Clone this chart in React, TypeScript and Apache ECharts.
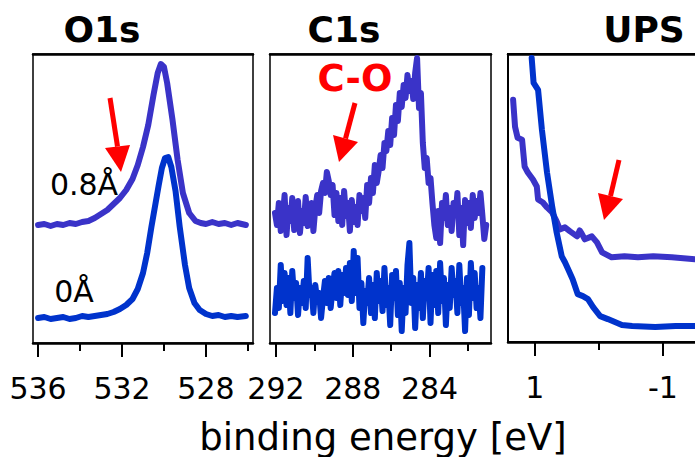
import React, { useEffect, useRef } from "react";
import * as echarts from "echarts";

// ---------- data (binding energy [eV], intensity [a.u.]) ----------
const o1sLabels = [536, 532, 528];
const o1sMinor = [534, 530, 526];
const c1sLabels = [292, 288, 284];
const c1sMinor = [290, 286, 282];
const upsLabels = [1, -1];
const upsMinor = [0];

const o1s08: [number, number][] = [
  [536.0, 118], [535.7, 119], [535.4, 117], [535.1, 119], [534.8, 118], [534.5, 120], [534.2, 119],
  [533.9, 121], [533.6, 122], [533.3, 125], [533.0, 129], [532.7, 133], [532.4, 139], [532.1, 145],
  [531.8, 153], [531.5, 164], [531.25, 178], [531.0, 196], [530.75, 218], [530.5, 248], [530.3, 270],
  [530.15, 279], [530.0, 276], [529.85, 260], [529.6, 224], [529.35, 183], [529.1, 150], [528.8, 130],
  [528.5, 122], [528.25, 120], [528.0, 119], [527.7, 121], [527.4, 119], [527.1, 120], [526.8, 118],
  [526.5, 120], [526.1, 118],
];
const o1s0: [number, number][] = [
  [536.0, 25], [535.7, 26], [535.4, 24], [535.1, 25], [534.8, 26], [534.5, 24], [534.2, 25],
  [533.9, 27], [533.6, 26], [533.3, 27], [533.0, 28], [532.7, 29], [532.4, 31], [532.1, 34],
  [531.8, 38], [531.5, 44], [531.25, 54], [531.0, 70], [530.8, 90], [530.6, 116], [530.4, 140],
  [530.25, 158], [530.1, 175], [529.95, 185], [529.8, 186], [529.65, 176], [529.45, 152], [529.25, 116],
  [529.0, 78], [528.8, 55], [528.55, 40], [528.3, 33], [528.0, 29], [527.7, 27], [527.4, 28],
  [527.1, 26], [526.8, 27], [526.5, 26], [526.1, 27],
];

const c1s08: [number, number][] = [
  [292.05, 130], [291.95, 118], [291.85, 140], [291.75, 112], [291.65, 125], [291.55, 148], [291.45, 108],
  [291.35, 135], [291.25, 122], [291.15, 145], [291.05, 113], [290.95, 128], [290.85, 142], [290.75, 110],
  [290.65, 132], [290.55, 120], [290.45, 146], [290.35, 117], [290.25, 126], [290.15, 140], [290.05, 112],
  [289.95, 135], [289.85, 148], [289.75, 130], [289.65, 152], [289.55, 160], [289.45, 150], [289.35, 171],
  [289.25, 162], [289.15, 148], [289.05, 158], [288.95, 128], [288.85, 150], [288.75, 122], [288.65, 145],
  [288.55, 118], [288.45, 152], [288.35, 127], [288.25, 140], [288.15, 112], [288.05, 143], [287.95, 121],
  [287.85, 136], [287.75, 118], [287.65, 148], [287.55, 132], [287.45, 145], [287.35, 125], [287.25, 158],
  [287.15, 140], [287.05, 165], [286.95, 150], [286.85, 178], [286.75, 160], [286.65, 172], [286.55, 188],
  [286.45, 175], [286.35, 200], [286.25, 192], [286.15, 212], [286.05, 198], [285.95, 225], [285.85, 208],
  [285.75, 238], [285.65, 222], [285.55, 250], [285.45, 236], [285.35, 258], [285.25, 245], [285.15, 268],
  [285.05, 252], [284.95, 262], [284.85, 244], [284.75, 270], [284.65, 285], [284.55, 235], [284.45, 250],
  [284.35, 200], [284.25, 175], [284.15, 185], [284.05, 160], [283.95, 165], [283.85, 140], [283.75, 118],
  [283.65, 105], [283.55, 132], [283.45, 100], [283.35, 140], [283.25, 125], [283.15, 148], [283.05, 118],
  [282.95, 135], [282.85, 112], [282.75, 140], [282.65, 128], [282.55, 150], [282.45, 108], [282.35, 135],
  [282.25, 98], [282.15, 143], [282.05, 120], [281.95, 140], [281.85, 115], [281.75, 148], [281.65, 125],
  [281.55, 142], [281.45, 130], [281.35, 150], [281.25, 128], [281.15, 104], [281.05, 118],
];
const c1s0: [number, number][] = [
  [292.05, 30], [291.95, 55], [291.85, 35], [291.75, 78], [291.65, 42], [291.55, 70], [291.45, 38],
  [291.35, 65], [291.25, 30], [291.15, 72], [291.05, 45], [290.95, 60], [290.85, 28], [290.75, 55],
  [290.65, 40], [290.55, 62], [290.45, 35], [290.35, 85], [290.25, 48], [290.15, 55], [290.05, 30],
  [289.95, 58], [289.85, 42], [289.75, 50], [289.65, 25], [289.55, 45], [289.45, 62], [289.35, 40],
  [289.25, 65], [289.15, 35], [289.05, 55], [288.95, 70], [288.85, 45], [288.75, 72], [288.65, 38],
  [288.55, 68], [288.45, 50], [288.35, 75], [288.25, 48], [288.15, 80], [288.05, 42], [287.95, 92],
  [287.85, 50], [287.75, 85], [287.65, 35], [287.55, 60], [287.45, 20], [287.35, 52], [287.25, 40],
  [287.15, 65], [287.05, 30], [286.95, 58], [286.85, 25], [286.75, 70], [286.65, 42], [286.55, 62],
  [286.45, 32], [286.35, 75], [286.25, 38], [286.15, 55], [286.05, 18], [285.95, 68], [285.85, 45],
  [285.75, 72], [285.65, 28], [285.55, 60], [285.45, 12], [285.35, 55], [285.25, 30], [285.15, 78],
  [285.05, 100], [284.95, 40], [284.85, 65], [284.75, 15], [284.65, 58], [284.55, 35], [284.45, 70],
  [284.35, 25], [284.25, 62], [284.15, 45], [284.05, 75], [283.95, 20], [283.85, 68], [283.75, 38],
  [283.65, 72], [283.55, 30], [283.45, 80], [283.35, 42], [283.25, 65], [283.15, 18], [283.05, 58],
  [282.95, 35], [282.85, 75], [282.75, 48], [282.65, 62], [282.55, 30], [282.45, 78], [282.35, 40],
  [282.25, 55], [282.15, 12], [282.05, 65], [281.95, 28], [281.85, 80], [281.75, 45], [281.65, 70],
  [281.55, 35], [281.45, 55], [281.35, 25], [281.25, 75],
];

const ups08: [number, number][] = [
  [1.34, 243], [1.31, 216], [1.27, 205], [1.2, 203], [1.16, 176], [1.11, 170], [1.03, 163],
  [0.97, 156], [0.95, 143], [0.875, 140], [0.81, 135], [0.73, 130], [0.66, 121], [0.61, 113],
  [0.53, 115], [0.45, 111], [0.34, 106], [0.3, 112], [0.27, 109], [0.22, 103], [0.11, 106],
  [0.03, 100], [-0.05, 90], [-0.2, 85], [-0.4, 86], [-0.61, 85], [-0.85, 86], [-1.14, 85],
  [-1.5, 83], [-1.8, 84],
];
const ups0: [number, number][] = [
  [1.05, 285], [1.02, 260], [0.95, 253], [0.89, 213], [0.81, 170], [0.73, 136], [0.66, 110],
  [0.58, 86], [0.53, 80], [0.48, 73], [0.41, 63], [0.33, 48], [0.25, 46], [0.17, 43],
  [0.09, 35], [-0.02, 26], [-0.14, 23], [-0.25, 20], [-0.36, 17], [-0.52, 16], [-0.88, 15],
  [-1.2, 16], [-1.45, 16], [-1.8, 17],
];

const PURPLE = "#3a33c8";
const BLUE = "#0033cc";
const FONT = "'DejaVu Sans', Verdana, sans-serif";

function axesFor(grid: number, min: number, max: number, labels: number[], minor: number[]) {
  return [
    {
      type: "value", gridIndex: grid, min, max, inverse: true, position: "bottom",
      axisLine: { show: true, lineStyle: { color: "#000", width: 2.5 } },
      axisTick: { show: true, inside: false, length: 14, lineStyle: { color: "#000", width: 2 }, customValues: labels },
      axisLabel: { show: true, customValues: labels, margin: 30, color: "#000", fontSize: 30, fontFamily: FONT },
      splitLine: { show: false },
    },
    {
      type: "value", gridIndex: grid, min, max, inverse: true, position: "bottom",
      axisLine: { show: false },
      axisTick: { show: true, inside: false, length: 8, lineStyle: { color: "#000", width: 2 }, customValues: minor },
      axisLabel: { show: false, customValues: minor },
      splitLine: { show: false },
    },
    {
      type: "value", gridIndex: grid, min, max, inverse: true, position: "top",
      axisLine: { show: true, lineStyle: { color: "#000", width: 2.5 } },
      axisTick: { show: false },
      axisLabel: { show: false },
      splitLine: { show: false },
    },
  ];
}

function arrow(x1: number, y1: number, pts: number[][]) {
  const bx = (pts[0][0] + pts[1][0]) / 2;
  const by = (pts[0][1] + pts[1][1]) / 2;
  return [
    { type: "line", shape: { x1, y1, x2: bx, y2: by }, style: { stroke: "#ff0000", lineWidth: 5 } },
    { type: "polygon", shape: { points: pts }, style: { fill: "#ff0000" } },
  ];
}

export default function App() {
  const ref = useRef<HTMLDivElement>(null);
  useEffect(() => {
    if (!ref.current) return;
    const chart = echarts.init(ref.current, null, { renderer: "svg" });
    const lineSeries = (data: [number, number][], color: string, idx: number) => ({
      type: "line", data, xAxisIndex: idx * 3, yAxisIndex: idx, showSymbol: false, symbol: "none",
      lineStyle: { color, width: 6, join: "round", cap: "round" }, clip: true,
    });
    const gridBase = { top: 54, show: true, borderColor: "#000", outerBoundsMode: "none", containLabel: false };
    chart.setOption({
      animation: false,
      grid: [
        { ...gridBase, left: 33, width: 220, height: 289, borderWidth: 1.5 },
        { ...gridBase, left: 270, width: 221, height: 289, borderWidth: 1.5 },
        { ...gridBase, left: 508, width: 240, height: 288, borderWidth: 2 },
      ],
      xAxis: [
        ...axesFor(0, 525.76, 536.24, o1sLabels, o1sMinor),
        ...axesFor(1, 280.8, 292.31, c1sLabels, c1sMinor),
        ...axesFor(2, -2.33, 1.42, upsLabels, upsMinor),
      ],
      yAxis: [0, 1, 2].map((g) => ({ type: "value", gridIndex: g, min: 0, max: 289, show: false })),
      series: [
        lineSeries(o1s08, PURPLE, 0),
        lineSeries(o1s0, BLUE, 0),
        lineSeries(c1s08, PURPLE, 1),
        lineSeries(c1s0, BLUE, 1),
        lineSeries(ups08, PURPLE, 2),
        lineSeries(ups0, BLUE, 2),
      ],
      graphic: [
        { type: "text", x: 102, y: 29, style: { text: "O1s", font: `bold 36px ${FONT}`, fill: "#000", textAlign: "center", textVerticalAlign: "middle" } },
        { type: "text", x: 344, y: 29, style: { text: "C1s", font: `bold 36px ${FONT}`, fill: "#000", textAlign: "center", textVerticalAlign: "middle" } },
        { type: "text", x: 644, y: 29, style: { text: "UPS", font: `bold 36px ${FONT}`, fill: "#000", textAlign: "center", textVerticalAlign: "middle" } },
        { type: "text", x: 355, y: 78, style: { text: "C-O", font: `bold 37px ${FONT}`, fill: "#ff0000", textAlign: "center", textVerticalAlign: "middle" } },
        { type: "text", x: 84, y: 184, style: { text: "0.8Å", font: `30px ${FONT}`, fill: "#000", textAlign: "center", textVerticalAlign: "middle" } },
        { type: "text", x: 74, y: 291, style: { text: "0Å", font: `30px ${FONT}`, fill: "#000", textAlign: "center", textVerticalAlign: "middle" } },
        { type: "text", x: 383, y: 437, style: { text: "binding energy [eV]", font: `37px ${FONT}`, fill: "#000", textAlign: "center", textVerticalAlign: "middle" } },
        ...arrow(110, 98, [[105, 148], [130, 145], [121, 172]]),
        ...arrow(355, 103, [[333, 135], [358, 142], [339, 162]]),
        ...arrow(619, 160, [[598, 193], [623, 199], [604, 220]]),
      ],
    });
    return () => chart.dispose();
  }, []);
  return (
    <div style={{ position: "absolute", left: 0, top: 0, width: 695, height: 457, overflow: "hidden" }}>
      <div ref={ref} style={{ width: 760, height: 457 }} />
    </div>
  );
}
